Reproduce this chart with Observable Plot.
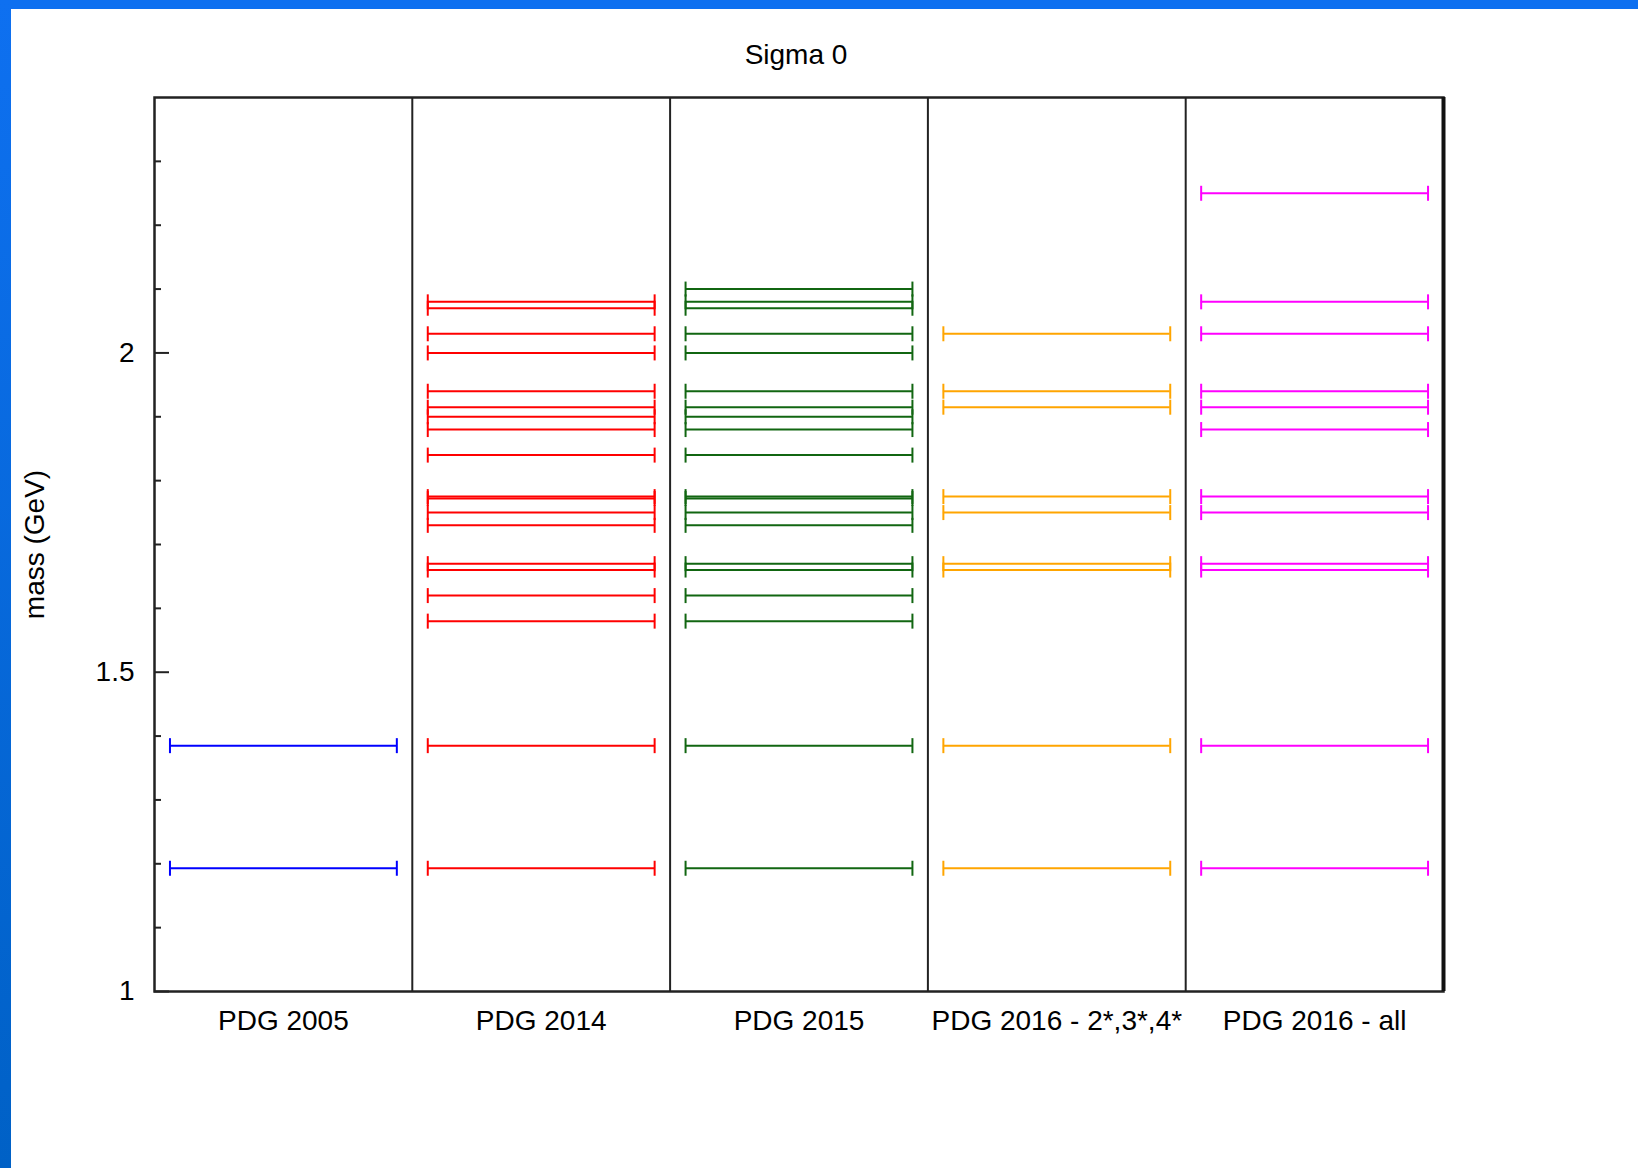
<!DOCTYPE html>
<html>
<head>
<meta charset="utf-8">
<script src="https://cdn.jsdelivr.net/npm/d3@7"></script>
<script src="https://cdn.jsdelivr.net/npm/@observablehq/plot@0.6"></script>
<style>
  html, body { margin: 0; padding: 0; background: #fff; }
  #page { position: relative; width: 1638px; height: 1168px; overflow: hidden; background: #fff; }
  #chart { position: absolute; left: 0; top: 0; }
  .band-top { position: absolute; left: 0; top: 0; width: 1638px; height: 9px; background: #0e70f0; }
  .band-left { position: absolute; left: 0; top: 0; width: 11px; height: 1168px; background: linear-gradient(#0e70f0, #0061c6); }
</style>
</head>
<body>
<div id="page">
  <div id="chart"></div>
  <div class="band-top"></div>
  <div class="band-left"></div>
</div>
<script>
// Sigma0 resonance masses (GeV) listed in successive PDG editions
const chartTitle = "Sigma 0";
const yLabel = "mass (GeV)";
const categories = ["PDG 2005", "PDG 2014", "PDG 2015", "PDG 2016 - 2*,3*,4*", "PDG 2016 - all"];
const colors = ["#0000ff", "#ff0000", "#116611", "#ffa500", "#ff00ff"];

const pdg2005 = [1.193, 1.385];
const pdg2014 = [1.193, 1.385, 1.580, 1.620, 1.660, 1.670, 1.730, 1.750, 1.772, 1.775,
                 1.840, 1.880, 1.900, 1.915, 1.940, 2.000, 2.030, 2.070, 2.080];
const pdg2015 = [1.193, 1.385, 1.580, 1.620, 1.660, 1.670, 1.730, 1.750, 1.772, 1.775,
                 1.840, 1.880, 1.900, 1.915, 1.940, 2.000, 2.030, 2.070, 2.080, 2.100];
const pdg2016Rated = [1.193, 1.385, 1.660, 1.670, 1.750, 1.775, 1.915, 1.940, 2.030];
const pdg2016All = [1.193, 1.385, 1.660, 1.670, 1.750, 1.775, 1.880, 1.915, 1.940, 2.030, 2.080, 2.250];

const majorTicks = [1, 1.5, 2];
const minorTicks = [1.1, 1.2, 1.3, 1.4, 1.6, 1.7, 1.8, 1.9, 2.1, 2.2, 2.3];

const series = [pdg2005, pdg2014, pdg2015, pdg2016Rated, pdg2016All];
const rows = series.flatMap((masses, i) =>
  masses.map(mass => ({edition: categories[i], pos: i + 1, mass})));

// layout
const W = 1638, H = 1168;
const mLeft = 154, mRight = 195, mTop = 97, mBottom = 177;
const frameW = W - mLeft - mRight;
const half = 0.44;          // half-width of each level bar, in column units
const font = "'Liberation Sans', Arial, Helvetica, sans-serif";

// vertical end cap drawn as a dot symbol
const cap = {
  draw(ctx, size) {
    const h = Math.sqrt(size / Math.PI);
    ctx.moveTo(0, -h);
    ctx.lineTo(0, h);
  }
};

const chart = Plot.plot({
  width: W,
  height: H,
  marginLeft: mLeft,
  marginRight: mRight,
  marginTop: mTop,
  marginBottom: mBottom,
  style: {fontSize: "28px", fontFamily: font, color: "#000", background: "transparent"},
  x: {type: "linear", domain: [0.5, categories.length + 0.5]},
  y: {domain: [1, 2.4]},
  color: {domain: categories, range: colors},
  marks: [
    // mass levels
    Plot.ruleY(rows, {y: "mass", x1: d => d.pos - half, x2: d => d.pos + half, stroke: "edition", strokeWidth: 2}),
    Plot.dot(rows, {x: d => d.pos - half, y: "mass", stroke: "edition", symbol: cap, r: 7.5, strokeWidth: 2, fill: "none"}),
    Plot.dot(rows, {x: d => d.pos + half, y: "mass", stroke: "edition", symbol: cap, r: 7.5, strokeWidth: 2, fill: "none"}),
    // column separators and frame
    Plot.ruleX(d3.range(1, categories.length).map(i => i + 0.5), {stroke: "#222", strokeWidth: 2}),
    Plot.frame({stroke: "#222", strokeWidth: 2.5}),
    Plot.ruleX([categories.length + 0.5], {stroke: "#111", strokeWidth: 4}),
    // inward ticks on the mass axis
    Plot.tickY(majorTicks, {y: d => d, insetRight: frameW - 15, stroke: "#222", strokeWidth: 2}),
    Plot.tickY(minorTicks, {y: d => d, insetRight: frameW - 7, stroke: "#222", strokeWidth: 2}),
    Plot.axisY({ticks: majorTicks, tickSize: 0, tickPadding: 20, tickFormat: d => String(d), label: null}),
    Plot.axisX({ticks: d3.range(1, categories.length + 1), tickFormat: i => categories[i - 1], tickSize: 0, tickPadding: 19, label: null}),
    // titles
    Plot.text([chartTitle], {text: d => d, frameAnchor: "top", lineAnchor: "top", dy: -53, dx: -3}),
    Plot.text([yLabel], {text: d => d, frameAnchor: "left", textAnchor: "middle", rotate: -90, lineAnchor: "middle", dx: -119})
  ]
});

document.getElementById("chart").appendChild(chart);
</script>
</body>
</html>
